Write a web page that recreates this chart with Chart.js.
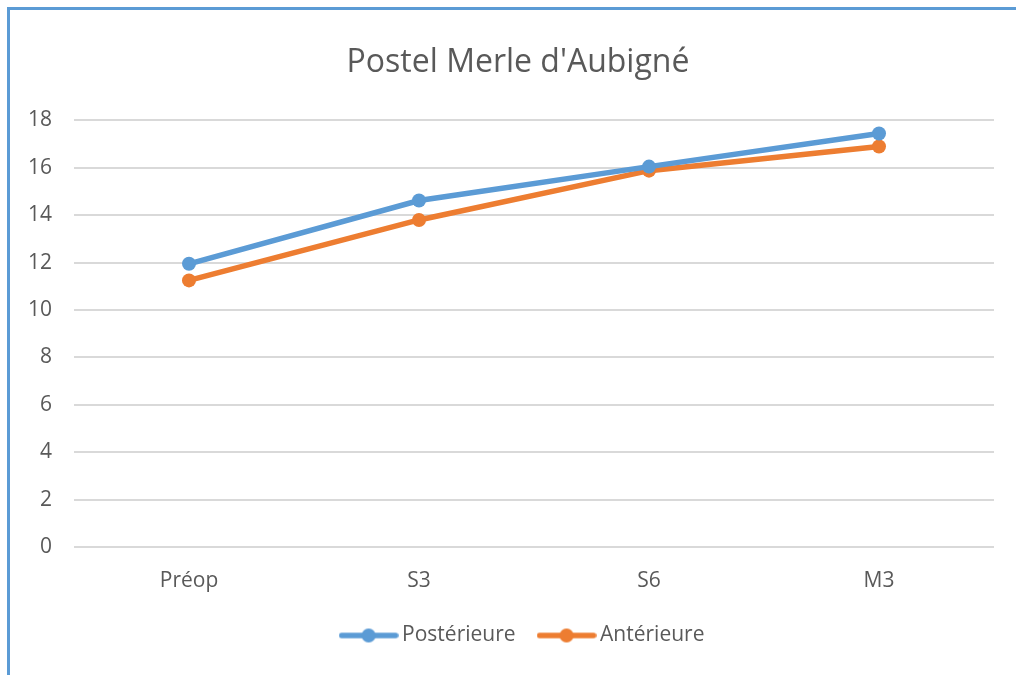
<!DOCTYPE html>
<html>
<head>
<meta charset="utf-8">
<script src="https://cdn.jsdelivr.net/npm/chart.js@4/dist/chart.umd.min.js"></script>
<style>
  body { margin: 0; background: #fff; }
  #wrap { position: relative; width: 1016px; height: 675px; }
  #frame {
    position: absolute; left: 7px; top: 7px; right: 0; bottom: 0;
    border-left: 3px solid #5B9BD5; border-top: 3px solid #5B9BD5;
    pointer-events: none;
  }
</style>
</head>
<body>
<div id="wrap">
  <canvas id="chart-line" width="1016" height="675"></canvas>
  <div id="frame"></div>
</div>
<script>
const categories = ["Préop", "S3", "S6", "M3"];
const posterieure = [11.95, 14.62, 16.05, 17.45];
const anterieure = [11.25, 13.8, 15.88, 16.9];
const seriesNames = ["Postérieure", "Antérieure"];
const seriesColors = ["#5B9BD5", "#ED7D31"];

const textColor = "#595959";
const fontFamily = "'Open Sans', sans-serif";

// small picture for the legend: line with a dot in the middle
function legendMarker(color) {
  const c = document.createElement("canvas");
  c.width = 60;
  c.height = 16;
  const g = c.getContext("2d");
  g.strokeStyle = color;
  g.lineWidth = 5.5;
  g.lineCap = "round";
  g.beginPath();
  g.moveTo(3, 8);
  g.lineTo(57, 8);
  g.stroke();
  g.fillStyle = color;
  g.beginPath();
  g.arc(30, 8, 7, 0, Math.PI * 2);
  g.fill();
  return c;
}
const markers = seriesColors.map(legendMarker);

// title and legend sit a bit right of the plot centre in the original
const shiftBlocks = {
  id: "shiftBlocks",
  afterLayout(chart) {
    chart.titleBlock.left += 21;
    chart.titleBlock.right += 21;
    chart.legend.left += 28;
    chart.legend.right += 28;
  },
};

var ctx = document.getElementById("chart-line");
var myLineChart = new Chart(ctx, {
  type: "line",
  data: {
    labels: categories,
    datasets: [
      {
        label: seriesNames[0],
        data: posterieure,
        borderColor: seriesColors[0],
        backgroundColor: seriesColors[0],
        borderWidth: 5.5,
        pointRadius: 7,
        pointBorderWidth: 0,
        fill: false,
      },
      {
        label: seriesNames[1],
        data: anterieure,
        borderColor: seriesColors[1],
        backgroundColor: seriesColors[1],
        borderWidth: 5.5,
        pointRadius: 7,
        pointBorderWidth: 0,
        fill: false,
      },
    ],
  },
  plugins: [shiftBlocks],
  options: {
    responsive: false,
    animation: false,
    layout: { padding: { left: 0, right: 22, top: 0, bottom: 19 } },
    plugins: {
      title: {
        display: true,
        text: "Postel Merle d'Aubigné",
        color: textColor,
        font: { family: fontFamily, size: 32, weight: "normal" },
        padding: { top: 44, bottom: 38 },
      },
      legend: {
        position: "bottom",
        labels: {
          color: textColor,
          font: { family: fontFamily, size: 21 },
          usePointStyle: true,
          pointStyleWidth: 46,
          padding: 28,
          generateLabels: function (chart) {
            const items = Chart.defaults.plugins.legend.labels.generateLabels(chart);
            items.forEach((item, i) => {
              item.pointStyle = markers[i];
            });
            return items;
          },
        },
      },
      tooltip: { enabled: false },
    },
    scales: {
      x: {
        offset: true,
        afterFit: function (scale) {
          scale.height = 50;
        },
        grid: { display: false },
        border: { display: false },
        ticks: {
          color: textColor,
          font: { family: fontFamily, size: 21 },
          padding: 13,
        },
      },
      y: {
        min: 0,
        max: 18,
        afterFit: function (scale) {
          scale.width = 74;
        },
        grid: { color: "#D9D9D9", lineWidth: 2, drawTicks: false },
        border: { display: false },
        ticks: {
          stepSize: 2,
          color: textColor,
          font: { family: fontFamily, size: 21 },
          padding: 22,
        },
      },
    },
  },
});
</script>
</body>
</html>
